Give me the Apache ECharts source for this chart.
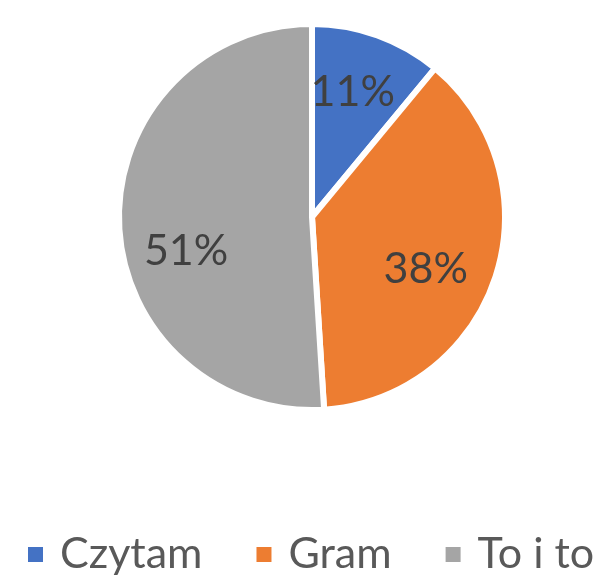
<!DOCTYPE html>
<html><head><meta charset="utf-8">
<script src="https://cdn.jsdelivr.net/npm/echarts@6/dist/echarts.min.js"></script>
<style>html,body{margin:0;padding:0;background:#fff}#c{width:601px;height:576px}</style>
</head><body><div id="c"></div>
<script>
const categories = ['Czytam', 'Gram', 'To i to'];
const values = [11, 38, 51];
const colors = ['#4472C4', '#ED7D31', '#A5A5A5'];
// label nudges (layout only, not data)
const labelOffsets = [[-3, -4], [-9, 12], [3, 30]];
const font = 'Lato, "Open Sans", sans-serif';
const data = categories.map((n, i) => ({ name: n, value: values[i] }));
const labelData = categories.map((n, i) => ({ name: n, value: values[i], label: { offset: labelOffsets[i] } }));
const chart = echarts.init(document.getElementById('c'));
chart.setOption({
  animation: false,
  color: colors,
  legend: {
    top: 528, left: 21, width: 600, padding: 5, orient: 'horizontal',
    itemWidth: 17, itemHeight: 17, itemGap: 52,
    icon: 'rect',
    textStyle: { fontFamily: font, fontSize: 43, color: '#595959', padding: [0, 0, 0, 11] },
    data: categories
  },
  series: [
    {
      type: 'pie', radius: [0, 193], center: [312, 217],
      startAngle: 90, clockwise: true,
      itemStyle: { borderColor: '#fff', borderWidth: 6 },
      label: { show: false }, labelLine: { show: false },
      emphasis: { disabled: true }, silent: true,
      data: data
    },
    {
      type: 'pie', radius: [0, 252], center: [312, 217],
      startAngle: 90, clockwise: true, silent: true,
      itemStyle: { color: 'rgba(0,0,0,0)', borderWidth: 0 },
      label: { show: true, position: 'inside', formatter: '{c}%',
        fontFamily: font, fontSize: 43, color: '#404040' },
      labelLine: { show: false },
      emphasis: { disabled: true },
      data: labelData
    }
  ]
});
</script></body></html>
